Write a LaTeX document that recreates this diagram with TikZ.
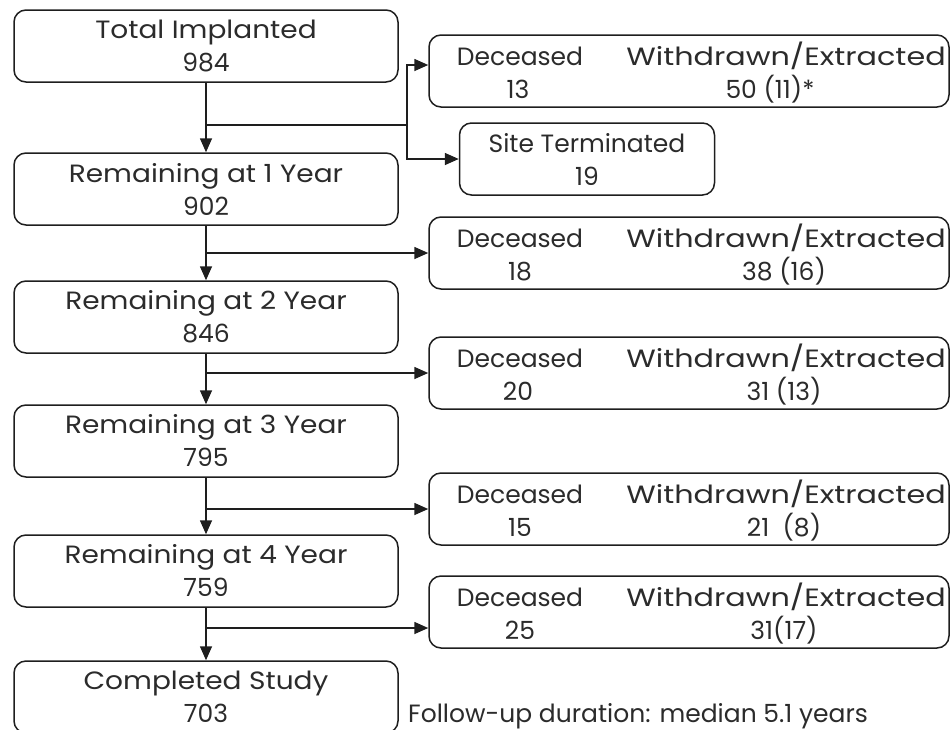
\documentclass[tikz,border=0pt]{standalone}
\usepackage{fontspec}
\setmainfont{Poppins}
\newfontfamily\wordfont{Poppins}[FakeStretch=1.12]
\newfontfamily\widefont{Poppins}[FakeStretch=1.21]
\usetikzlibrary{arrows.meta,positioning}

\definecolor{linegray}{HTML}{1E1E1E}
\definecolor{textgray}{HTML}{2B2B2B}
\newcommand{\flowfont}{\fontsize{25}{33}\selectfont}

\tikzset{
  stage/.style={draw=linegray, line width=1.5pt, rounded corners=12pt,
    minimum width=384pt, minimum height=72pt, align=center,
    text=textgray, font=\flowfont},
  exitbox/.style={draw=linegray, line width=1.5pt, rounded corners=12pt,
    minimum width=520pt, minimum height=72pt},
  lbl/.style={anchor=base, inner sep=0pt, text=textgray, font=\flowfont},
  flow/.style={draw=linegray, line width=1.6pt,
    -{Triangle[length=14pt,width=12pt]}}
}

\begin{document}
\begin{tikzpicture}[x=1pt, y=-1pt]
  \useasboundingbox (0,0) rectangle (951,729);

  % stages down the left
  \node[stage] (s0) at (206, 46) {{\wordfont Total Implanted}\\984};
  \node[stage] (s1) at (206,189) {{\wordfont Remaining at 1 Year}\\902};
  \node[stage] (s2) at (206,317) {{\wordfont Remaining at 2 Year}\\846};
  \node[stage] (s3) at (206,441) {{\wordfont Remaining at 3 Year}\\795};
  \node[stage] (s4) at (206,571) {{\wordfont Remaining at 4 Year}\\759};
  \node[stage] (s5) at (206,697) {{\wordfont Completed Study}\\703};

  % losses on the right
  \node[exitbox] (x0) at (689, 71) {};
  \node[lbl] (x0d) at (520, 65) {Deceased};
  \node[lbl] (x0w) at (786, 65) {\widefont Withdrawn/Extracted};
  \node[lbl] (x0n) at (518, 98) {13};
  \node[lbl] (x0m) at (770, 98) {50 (11)*};

  \node[stage, minimum width=255pt] (st) at (587,159)
    {Site Terminated\\19};

  \node[exitbox] (x1) at (689,253) {};
  \node[lbl] (x1d) at (520,247) {Deceased};
  \node[lbl] (x1w) at (786,247) {\widefont Withdrawn/Extracted};
  \node[lbl] (x1n) at (520,280) {18};
  \node[lbl] (x1m) at (784,280) {38 (16)};

  \node[exitbox] (x2) at (689,373) {};
  \node[lbl] (x2d) at (520,367) {Deceased};
  \node[lbl] (x2w) at (786,367) {\widefont Withdrawn/Extracted};
  \node[lbl] (x2n) at (518,400) {20};
  \node[lbl] (x2m) at (784,400) {31 (13)};

  \node[exitbox] (x3) at (689,509) {};
  \node[lbl] (x3d) at (520,503) {Deceased};
  \node[lbl] (x3w) at (786,503) {\widefont Withdrawn/Extracted};
  \node[lbl] (x3n) at (520,536) {15};
  \node[lbl] (x3m) at (784,536) {21\ \ (8)};

  \node[exitbox] (x4) at (689,612) {};
  \node[lbl] (x4d) at (520,606) {Deceased};
  \node[lbl] (x4w) at (786,606) {\widefont Withdrawn/Extracted};
  \node[lbl] (x4n) at (520,639) {25};
  \node[lbl] (x4m) at (784,639) {31(17)};

  \node[lbl, anchor=base west] (note) at (408,722)
    {Follow-up duration: median 5.1 years};

  % main line
  \draw[flow] (s0) -- (s1);
  \draw[flow] (s1) -- (s2);
  \draw[flow] (s2) -- (s3);
  \draw[flow] (s3) -- (s4);
  \draw[flow] (s4) -- (s5);

  % branches
  \coordinate (j0) at (206,125);
  \coordinate (k0) at (407,125);
  \draw[linegray, line width=1.6pt] (j0) -- (k0);
  \draw[flow] (k0) |- ([yshift=6pt]x0.west);
  \draw[flow] (k0) |- (st.west);
  \draw[flow] (s1.south |- x1.west) -- (x1.west);
  \draw[flow] (s2.south |- x2.west) -- (x2.west);
  \draw[flow] (s3.south |- x3.west) -- (x3.west);
  \coordinate (j4) at (206,628);
  \draw[flow] (j4) -- (j4 -| x4.west);
\end{tikzpicture}
\end{document}
